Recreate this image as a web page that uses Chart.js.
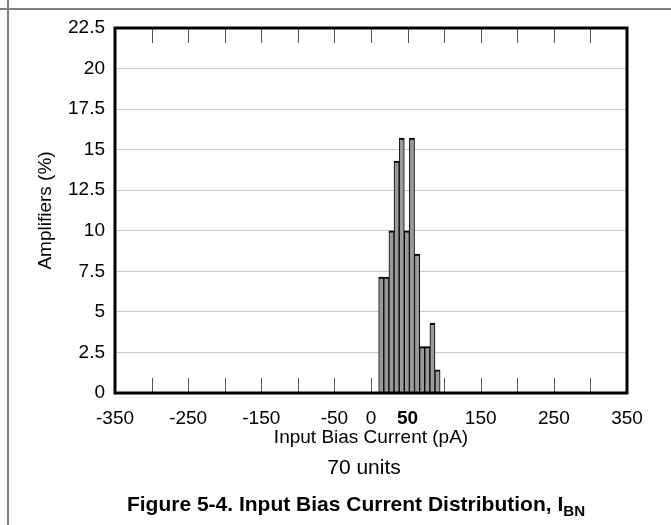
<!DOCTYPE html>
<html>
<head>
<meta charset="utf-8">
<script src="https://cdn.jsdelivr.net/npm/chart.js@4/dist/chart.umd.min.js"></script>
<style>
  html, body { margin: 0; padding: 0; background: #fff; }
  body { width: 671px; height: 525px; position: relative; overflow: hidden;
         font-family: "Liberation Sans", Arial, sans-serif; }
  #wrap { position: absolute; left: 0; top: 0; width: 671px; height: 525px; }
  .rule-h { position: absolute; left: 0; top: 8px; width: 671px; height: 2px; background: #808080; }
  .rule-v { position: absolute; left: 7px; top: 0; width: 2px; height: 525px; background: #808080; }
  #units { position: absolute; left: 0; width: 728px; top: 455px; text-align: center;
           font-size: 21px; color: #000; white-space: nowrap; }
  #caption { position: absolute; left: 0; width: 712px; top: 492px; text-align: center;
             font-weight: bold; font-size: 21px; color: #000; white-space: nowrap; }
  #caption sub { font-size: 0.72em; vertical-align: -0.3em; line-height: 0; }
</style>
</head>
<body>
<div class="rule-h"></div>
<div class="rule-v"></div>
<div id="wrap"><canvas id="c" width="671" height="525"></canvas></div>
<div id="units">70 units</div>
<div id="caption">Figure 5-4. Input Bias Current Distribution, I<sub>BN</sub></div>
<script>
// Histogram bins (pA, bin centres) and share of the 70 amplifiers in each bin (%)
const binCenters = [14, 21, 28, 35, 42, 49, 56, 63, 70, 77, 84, 91];
const amplifiersPct = [7.14, 7.14, 10, 14.29, 15.71, 10, 15.71, 8.57, 2.86, 2.86, 4.29, 1.43];

// Axis labelling
const xLabelValues = [-350, -250, -150, -50, 0, 50, 150, 250, 350];
const xMarkValues = [-300, -250, -200, -150, -100, -50, 0, 50, 100, 150, 200, 250, 300];
const yTickValues = [0, 2.5, 5, 7.5, 10, 12.5, 15, 17.5, 20, 22.5];
const xTitle = 'Input Bias Current (pA)';
const yTitle = 'Amplifiers (%)';

const FONT = '"Liberation Sans", Arial, sans-serif';

// Inner tick marks along top and bottom edges, drawn beneath the bars
const innerMarks = {
  id: 'innerMarks',
  beforeDatasetsDraw(chart) {
    const { ctx, chartArea: a, scales: { x } } = chart;
    ctx.save();
    ctx.strokeStyle = '#555';
    ctx.lineWidth = 1;
    ctx.beginPath();
    xMarkValues.forEach(v => {
      const px = Math.round(x.getPixelForValue(v)) + 0.5;
      ctx.moveTo(px, a.top);
      ctx.lineTo(px, a.top + 15);
      ctx.moveTo(px, a.bottom);
      ctx.lineTo(px, a.bottom - 15);
    });
    ctx.stroke();
    ctx.restore();
  }
};

// Heavy black frame around the plotting area
const frame = {
  id: 'frame',
  afterDatasetsDraw(chart) {
    const { ctx, chartArea: a } = chart;
    ctx.save();
    ctx.strokeStyle = '#000';
    ctx.lineWidth = 3;
    ctx.strokeRect(a.left, a.top, a.right - a.left, a.bottom - a.top);
    ctx.restore();
  }
};

new Chart(document.getElementById('c'), {
  type: 'bar',
  data: {
    datasets: [{
      data: binCenters.map((x, i) => ({ x: x, y: amplifiersPct[i] })),
      backgroundColor: '#9a9a9a',
      borderColor: '#000',
      borderWidth: { top: 2, left: 1, right: 1, bottom: 0 },
      borderSkipped: false,
      barPercentage: 1,
      categoryPercentage: 1
    }]
  },
  options: {
    responsive: false,
    animation: false,
    devicePixelRatio: 1,
    layout: { padding: { top: 28, left: 0, right: 44, bottom: 76 } },
    plugins: { legend: { display: false }, tooltip: { enabled: false } },
    scales: {
      x: {
        type: 'linear',
        min: -350,
        max: 350,
        offset: false,
        grid: { display: false },
        border: { display: false },
        afterBuildTicks(scale) { scale.ticks = xLabelValues.map(v => ({ value: v })); },
        afterFit(scale) { scale.height = 56; },
        ticks: {
          autoSkip: false,
          maxRotation: 0,
          padding: 6,
          color: '#000',
          font: (c) => ({ family: FONT, size: 19, weight: c.tick && c.tick.value === 50 ? 'bold' : 'normal' })
        },
        title: {
          display: true,
          text: xTitle,
          color: '#000',
          font: { family: FONT, size: 19 },
          padding: { top: 0, bottom: 0 }
        }
      },
      y: {
        min: 0,
        max: 22.5,
        grid: { color: '#c8c8c8', lineWidth: 1, drawTicks: false },
        border: { display: false },
        afterBuildTicks(scale) { scale.ticks = yTickValues.map(v => ({ value: v })); },
        afterFit(scale) { scale.width = 115; },
        ticks: {
          padding: 10,
          color: '#000',
          font: { family: FONT, size: 19 },
          callback: (v) => String(v)
        },
        title: {
          display: true,
          text: yTitle,
          color: '#000',
          font: { family: FONT, size: 19 },
          padding: { top: 34, bottom: 0 }
        }
      }
    }
  },
  plugins: [innerMarks, frame]
});
</script>
</body>
</html>
